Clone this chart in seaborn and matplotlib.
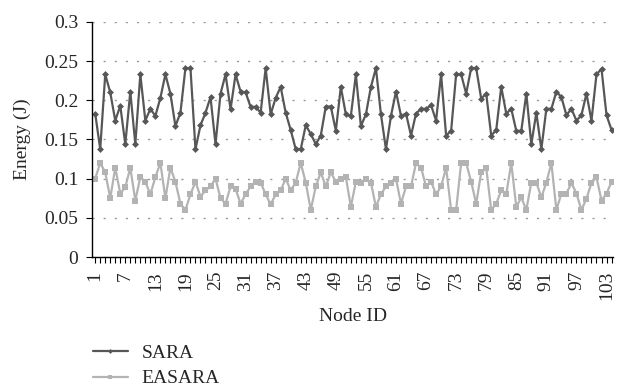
import numpy as np
import pandas as pd
import matplotlib
matplotlib.use('Agg')
import matplotlib.pyplot as plt
import seaborn as sns

# energy per node
sara = [0.183, 0.1375, 0.233, 0.21, 0.174, 0.193, 0.144, 0.211, 0.144, 0.233,
        0.174, 0.189, 0.18, 0.203, 0.233, 0.2085, 0.167, 0.184, 0.241, 0.241,
        0.1375, 0.168, 0.184, 0.204, 0.144, 0.2085, 0.233, 0.1885, 0.233, 0.211,
        0.21, 0.1915, 0.1915, 0.184, 0.241, 0.182, 0.203, 0.217, 0.184, 0.162,
        0.1375, 0.1375, 0.168, 0.157, 0.144, 0.155, 0.192, 0.192, 0.161, 0.217,
        0.182, 0.18, 0.233, 0.167, 0.182, 0.217, 0.241, 0.182, 0.1375, 0.18,
        0.211, 0.18, 0.183, 0.155, 0.183, 0.189, 0.189, 0.1936, 0.174, 0.233,
        0.155, 0.161, 0.233, 0.233, 0.2085, 0.241, 0.241, 0.202, 0.2085, 0.155,
        0.162, 0.217, 0.183, 0.189, 0.161, 0.161, 0.2085, 0.144, 0.184, 0.1375,
        0.189, 0.189, 0.211, 0.204, 0.181, 0.189, 0.174, 0.181, 0.2085, 0.174,
        0.233, 0.24, 0.181, 0.162]
easara = [0.1, 0.12, 0.108, 0.075, 0.114, 0.081, 0.089, 0.114, 0.072, 0.102,
          0.096, 0.08, 0.102, 0.12, 0.075, 0.114, 0.096, 0.068, 0.06, 0.08,
          0.096, 0.077, 0.085, 0.09, 0.1, 0.075, 0.068, 0.09, 0.087, 0.068,
          0.08, 0.09, 0.096, 0.095, 0.08, 0.067, 0.08, 0.085, 0.1, 0.085,
          0.095, 0.12, 0.095, 0.06, 0.09, 0.108, 0.09, 0.108, 0.096, 0.1,
          0.102, 0.064, 0.096, 0.095, 0.1, 0.095, 0.064, 0.08, 0.09, 0.095,
          0.1, 0.068, 0.09, 0.09, 0.12, 0.114, 0.09, 0.096, 0.08, 0.09,
          0.114, 0.06, 0.06, 0.12, 0.12, 0.096, 0.068, 0.108, 0.114, 0.06,
          0.068, 0.085, 0.08, 0.12, 0.064, 0.076, 0.06, 0.095, 0.095, 0.076,
          0.095, 0.12, 0.06, 0.081, 0.081, 0.0945, 0.081, 0.06, 0.0745, 0.0945,
          0.102, 0.072, 0.081, 0.0957]
nodes = np.arange(1, len(sara) + 1)
ytick_vals = [0, 0.05, 0.1, 0.15, 0.2, 0.25, 0.3]
ytick_labels = ['0', '0.05', '0.1', '0.15', '0.2', '0.25', '0.3']

sns.set_style('white')
plt.rcParams['font.family'] = ['Liberation Serif', 'DejaVu Serif']

fig = plt.figure(figsize=(6.23, 3.9), dpi=100)
ax = fig.add_axes([0.148, 0.341, 0.836, 0.603])

sns.lineplot(x=nodes, y=sara, ax=ax, color='#575757', linewidth=1.6,
             marker='D', markersize=3.5, markeredgewidth=0, label='SARA')
sns.lineplot(x=nodes, y=easara, ax=ax, color='#b3b3b3', linewidth=1.6,
             marker='s', markersize=4, markeredgewidth=0, label='EASARA')

ax.set_xlim(0.4, 104.3)
ax.set_ylim(0, 0.3)
ax.set_yticks(ytick_vals)
ax.set_yticklabels(ytick_labels)
ax.set_xticks(nodes)
ax.set_xticklabels([str(n) if (n - 1) % 6 == 0 else '' for n in nodes], rotation=90)

ax.grid(axis='y', color='#999999', linestyle=(0, (1.5, 6.5)), linewidth=1)
ax.grid(axis='x', visible=False)
for s in ['top', 'right']:
    ax.spines[s].set_visible(False)
for s in ['left', 'bottom']:
    ax.spines[s].set_color('black')
    ax.spines[s].set_linewidth(1)
ax.tick_params(axis='both', direction='out', length=4, width=0.8, color='black',
               labelsize=14, pad=6, bottom=True, left=True)

ax.set_xlabel('Node ID', fontsize=14)
ax.set_ylabel('Energy (J)', fontsize=14)
ax.xaxis.set_label_coords(0.5, -0.215)
ax.yaxis.set_label_coords(-0.118, 0.5)

ax.get_legend().remove()
handles, labels = ax.get_legend_handles_labels()
fig.legend(handles, labels, loc='center left', bbox_to_anchor=(0.149, 0.062),
           frameon=False, fontsize=14, handlelength=1.8, handletextpad=0.7,
           labelspacing=0.4, borderpad=0, borderaxespad=0, markerscale=0.7)

fig.savefig('out.png', dpi=100)
